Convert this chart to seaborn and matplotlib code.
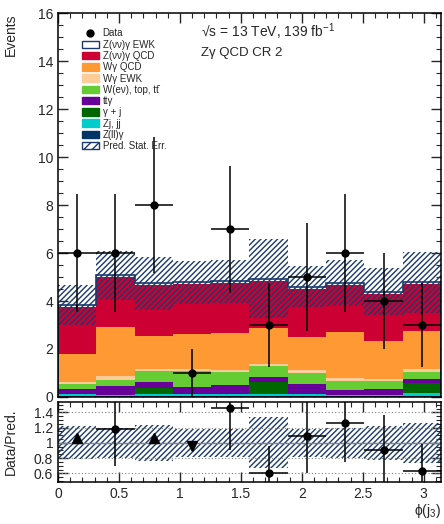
import numpy as np
import pandas as pd
import matplotlib
matplotlib.use("Agg")
import matplotlib.pyplot as plt
from matplotlib.patches import Patch
from matplotlib.lines import Line2D
from matplotlib.ticker import MultipleLocator, FuncFormatter
import seaborn as sns

sns.set_style("ticks")
plt.rcParams['font.family'] = ['Liberation Sans', 'DejaVu Sans']
plt.rcParams['mathtext.fontset'] = 'custom'
plt.rcParams['mathtext.rm'] = 'Liberation Sans'
plt.rcParams['mathtext.it'] = 'Liberation Sans:italic'
plt.rcParams['hatch.linewidth'] = 1.0

# ---------------- data ----------------
n_bins = 10
x_max = np.pi

processes = ["Z(νν)γ EWK", "Z(νν)γ QCD", "Wγ QCD", "Wγ EWK", "W(eν), top, tt̄",
             "ttγ", "γ + j", "Zj, jj", "Z(ll)γ"]
colors = ["#ffffff", "#cc0033", "#ff9933", "#ffcc99", "#66cc33",
          "#660099", "#006600", "#00cccc", "#003366"]

zvv_ewk = [0.07, 0.09, 0.09, 0.08, 0.08, 0.08, 0.09, 0.08, 0.08, 0.08]
zvv_qcd = [1.98, 2.09, 2.11, 2.08, 2.07, 1.96, 2.00, 1.97, 1.99, 1.95]
wg_qcd = [1.18, 2.03, 1.37, 1.45, 1.53, 1.53, 1.39, 1.93, 1.57, 1.58]
wg_ewk = [0.08, 0.16, 0.09, 0.09, 0.08, 0.08, 0.11, 0.10, 0.07, 0.13]
wenu_top = [0.21, 0.25, 0.44, 0.65, 0.56, 0.45, 0.46, 0.38, 0.33, 0.28]
ttg = [0.21, 0.38, 0.28, 0.32, 0.39, 0.22, 0.44, 0.20, 0.25, 0.19]
gamma_j = [0.00, 0.00, 0.25, 0.00, 0.00, 0.49, 0.00, 0.02, 0.02, 0.39]
zj_jj = [0.08, 0.05, 0.08, 0.08, 0.08, 0.09, 0.08, 0.05, 0.05, 0.12]
zll_g = [0.03, 0.03, 0.03, 0.03, 0.03, 0.03, 0.03, 0.03, 0.03, 0.06]

stat_err = [0.83, 1.02, 1.11, 0.90, 0.90, 1.65, 0.86, 0.95, 0.97, 1.26]
data_counts = [6, 6, 8, 1, 7, 3, 5, 6, 4, 3]

x_ticks = [0, 0.5, 1, 1.5, 2, 2.5, 3]
ratio_ticks = [0.6, 0.8, 1.0, 1.2, 1.4]

# --------------- derived ---------------
edges = np.linspace(0, x_max, n_bins + 1)
centers = 0.5 * (edges[:-1] + edges[1:])
binw = edges[1] - edges[0]
series = [zvv_ewk, zvv_qcd, wg_qcd, wg_ewk, wenu_top, ttg, gamma_j, zj_jj, zll_g]
total = np.sum(np.array(series), axis=0)
err = np.array(stat_err)
data = np.array(data_counts, dtype=float)
navy = "#1a3a6b"
hatch = "//////"

rows = []
for name, vals in zip(processes, series):
    for c, v in zip(centers, vals):
        rows.append({"x": float(c), "w": float(v), "process": name})
df = pd.DataFrame(rows)

fig = plt.figure(figsize=(4.44, 5.24), dpi=100)
ax = fig.add_axes([0.1306, 0.2424, 0.8626, 0.7326])
rax = fig.add_axes([0.1306, 0.0807, 0.8626, 0.1527])

sns.histplot(data=df, x="x", weights="w", hue="process", hue_order=processes,
             palette=dict(zip(processes, colors)), multiple="stack",
             bins=[float(e) for e in edges],
             linewidth=0, alpha=1, legend=False, ax=ax)
ax.stairs(total, edges, color=navy, lw=1.2)
ax.bar(centers, 2 * err, bottom=total - err, width=binw, fill=False,
       hatch=hatch, edgecolor=navy, linewidth=0)
ax.errorbar(centers, data, yerr=np.sqrt(data), xerr=binw / 2, fmt="o",
            color="black", ms=5, lw=1.1, capsize=0)

ax.set_xlim(0, x_max)
ax.set_ylim(0, 16)
ax.set_xlabel("")
ax.set_ylabel("Events", loc="top", fontsize=10)
ax.yaxis.set_label_coords(-0.105, 1.0)
ax.xaxis.set_major_locator(MultipleLocator(0.5))
ax.xaxis.set_minor_locator(MultipleLocator(0.1))
ax.yaxis.set_major_locator(MultipleLocator(2))
ax.yaxis.set_minor_locator(MultipleLocator(0.5))
ax.tick_params(labelbottom=False)

# legend
handles = [Line2D([], [], marker="o", color="black", ls="none", ms=5)]
labels = ["Data"]
for name, col in zip(processes, colors):
    ec = navy if col == "#ffffff" else col
    handles.append(Patch(facecolor=col, edgecolor=ec, lw=1.0))
    labels.append(name)
handles.append(Patch(facecolor="white", edgecolor=navy, hatch="////", lw=1.0))
labels.append("Pred. Stat. Err.")
ax.legend(handles, labels, loc="upper left", bbox_to_anchor=(0.062, 0.960),
          frameon=False, fontsize=7, handlelength=1.75, handleheight=0.8,
          labelspacing=0.13, handletextpad=0.4, borderpad=0, borderaxespad=0)

ax.text(0.373, 0.951, "√s = 13 TeV, 139 fb$^{-1}$", transform=ax.transAxes,
        fontsize=10, va="center", ha="left")
ax.text(0.373, 0.895, "Zγ QCD CR 2", transform=ax.transAxes,
        fontsize=9.5, va="center", ha="left")

# ratio panel
ratio = data / total
rerr = np.sqrt(data) / total
rel = err / total
r_lo, r_hi = 0.49, 1.54
rax.bar(centers, 2 * rel, bottom=1 - rel, width=binw, fill=False,
        hatch=hatch, edgecolor=navy, linewidth=0)
for t in ratio_ticks:
    if t == 1.0:
        rax.axhline(t, color="gray", lw=1.0)
    else:
        rax.axhline(t, color="gray", lw=0.8, ls=(0, (1, 2)))
inr = (ratio >= r_lo) & (ratio <= r_hi)
rax.errorbar(centers[inr], ratio[inr], yerr=rerr[inr], xerr=binw / 2, fmt="o",
             color="black", ms=5, lw=1.1, capsize=0)
up = ratio > r_hi
dn = ratio < r_lo
rax.plot(centers[up], np.full(up.sum(), 1.06), "^", color="black", ms=7)
rax.plot(centers[dn], np.full(dn.sum(), 0.96), "v", color="black", ms=7)

rax.set_xlim(0, x_max)
rax.set_ylim(r_lo, r_hi)
rax.set_xticks(x_ticks)
rax.set_yticks(ratio_ticks)
rax.xaxis.set_minor_locator(MultipleLocator(0.1))
rax.yaxis.set_minor_locator(MultipleLocator(0.05))
fmt = FuncFormatter(lambda v, p: "%g" % v)
rax.xaxis.set_major_formatter(fmt)
rax.yaxis.set_major_formatter(fmt)
rax.set_ylabel("Data/Pred.", fontsize=10)
rax.yaxis.set_label_coords(-0.105, 0.5)
rax.set_xlabel("ϕ(j$_3$)", loc="right", fontsize=10)
rax.xaxis.set_label_coords(1.0, -0.25)

for a in (ax, rax):
    a.tick_params(which="both", direction="in", top=True, right=True, labelsize=10)
    a.tick_params(which="major", length=7, width=1.0)
    a.tick_params(which="minor", length=3.5, width=0.8)
    for s in a.spines.values():
        s.set_linewidth(1.1)
        s.set_color("black")

fig.savefig("out.png", dpi=100)
